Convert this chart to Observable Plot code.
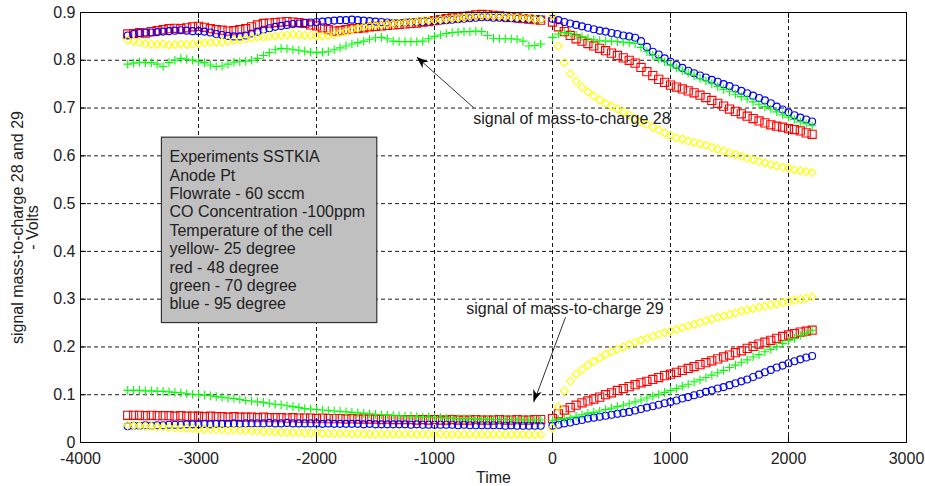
<!DOCTYPE html>
<html>
<head>
<meta charset="utf-8">
<script src="https://cdn.jsdelivr.net/npm/d3@7"></script>
<script src="https://cdn.jsdelivr.net/npm/@observablehq/plot@0.6"></script>
<style>
  html, body { margin: 0; padding: 0; background: #fff; }
</style>
</head>
<body>
<div id="chart"></div>
<script>
// Sampling times (s): 71 samples before the switch at t = 0, then 45 after it.
const TIME = [
  -3600,-3550,-3500,-3450,-3400,-3350,-3300,-3250,-3200,-3150,
  -3100,-3050,-3000,-2950,-2900,-2850,-2800,-2750,-2700,-2650,
  -2600,-2550,-2500,-2450,-2400,-2350,-2300,-2250,-2200,-2150,
  -2100,-2050,-2000,-1950,-1900,-1850,-1800,-1750,-1700,-1650,
  -1600,-1550,-1500,-1450,-1400,-1350,-1300,-1250,-1200,-1150,
  -1100,-1050,-1000,-950,-900,-850,-800,-750,-700,-650,
  -600,-550,-500,-450,-400,-350,-300,-250,-200,-150,
  -100,
  0,50,100,150,200,250,300,350,400,450,
  500,550,600,650,700,750,800,850,900,950,
  1000,1050,1100,1150,1200,1250,1300,1350,1400,1450,
  1500,1550,1600,1650,1700,1750,1800,1850,1900,1950,
  2000,2050,2100,2150,2200
];

// Signal of mass-to-charge 28 (V)
const red28 = [
  0.855,0.856,0.858,0.857,0.860,0.862,0.864,0.866,0.867,0.866,
  0.868,0.870,0.871,0.869,0.866,0.864,0.863,0.861,0.862,0.864,
  0.866,0.870,0.874,0.877,0.878,0.879,0.880,0.881,0.880,0.879,
  0.877,0.874,0.872,0.868,0.864,0.861,0.862,0.864,0.866,0.867,
  0.868,0.870,0.871,0.872,0.873,0.874,0.875,0.876,0.877,0.878,
  0.880,0.881,0.883,0.885,0.887,0.889,0.890,0.892,0.893,0.895,
  0.896,0.895,0.894,0.893,0.892,0.890,0.889,0.887,0.886,0.885,
  0.884,
  0.880,0.870,0.860,0.852,0.845,0.840,0.835,0.830,0.825,0.820,
  0.815,0.810,0.805,0.800,0.794,0.785,0.776,0.768,0.760,0.754,
  0.748,0.744,0.740,0.736,0.732,0.727,0.722,0.716,0.710,0.704,
  0.698,0.693,0.688,0.683,0.678,0.673,0.669,0.665,0.662,0.660,
  0.657,0.655,0.652,0.648,0.645
];
const blue28 = [
  0.852,0.855,0.857,0.858,0.858,0.859,0.860,0.861,0.862,0.863,
  0.862,0.861,0.861,0.860,0.858,0.855,0.853,0.851,0.850,0.850,
  0.852,0.856,0.860,0.864,0.867,0.870,0.872,0.874,0.876,0.877,
  0.878,0.879,0.880,0.881,0.882,0.883,0.884,0.884,0.885,0.884,
  0.883,0.882,0.881,0.880,0.879,0.878,0.878,0.879,0.880,0.880,
  0.880,0.881,0.882,0.883,0.884,0.885,0.886,0.887,0.888,0.889,
  0.890,0.890,0.889,0.889,0.888,0.888,0.887,0.887,0.886,0.886,
  0.886,
  0.887,0.884,0.880,0.877,0.874,0.871,0.868,0.865,0.862,0.860,
  0.857,0.855,0.852,0.850,0.847,0.840,0.828,0.818,0.812,0.804,
  0.797,0.790,0.784,0.778,0.773,0.768,0.764,0.759,0.755,0.750,
  0.746,0.741,0.736,0.731,0.726,0.721,0.716,0.710,0.703,0.697,
  0.691,0.685,0.680,0.676,0.672
];
const yellow28 = [
  0.842,0.840,0.837,0.835,0.834,0.833,0.834,0.832,0.833,0.834,
  0.833,0.834,0.835,0.836,0.837,0.838,0.838,0.840,0.842,0.843,
  0.845,0.846,0.848,0.849,0.850,0.851,0.852,0.853,0.854,0.853,
  0.852,0.852,0.851,0.851,0.852,0.854,0.857,0.860,0.864,0.867,
  0.870,0.873,0.874,0.875,0.876,0.877,0.878,0.879,0.880,0.881,
  0.882,0.883,0.884,0.885,0.886,0.887,0.888,0.889,0.891,0.892,
  0.893,0.893,0.892,0.892,0.891,0.890,0.890,0.889,0.888,0.886,
  0.885,
  0.894,0.830,0.795,0.772,0.756,0.744,0.734,0.725,0.717,0.710,
  0.704,0.698,0.692,0.685,0.678,0.672,0.666,0.660,0.654,0.648,
  0.642,0.638,0.635,0.631,0.628,0.625,0.622,0.618,0.614,0.610,
  0.606,0.603,0.599,0.595,0.592,0.588,0.585,0.582,0.579,0.576,
  0.574,0.571,0.569,0.567,0.565
];
const green28 = [
  0.792,0.794,0.796,0.795,0.795,0.792,0.787,0.795,0.800,0.804,
  0.802,0.800,0.797,0.795,0.790,0.787,0.788,0.792,0.796,0.797,
  0.798,0.800,0.804,0.810,0.816,0.822,0.825,0.824,0.822,0.821,
  0.819,0.817,0.816,0.817,0.818,0.822,0.826,0.830,0.834,0.837,
  0.840,0.844,0.847,0.848,0.845,0.840,0.839,0.839,0.839,0.839,
  0.840,0.845,0.850,0.853,0.856,0.858,0.859,0.860,0.860,0.861,
  0.860,0.852,0.846,0.845,0.845,0.845,0.844,0.840,0.830,0.831,
  0.834,
  0.848,0.855,0.858,0.856,0.852,0.849,0.846,0.843,0.841,0.840,
  0.840,0.839,0.838,0.837,0.835,0.827,0.818,0.810,0.803,0.797,
  0.790,0.784,0.778,0.773,0.768,0.762,0.757,0.751,0.745,0.739,
  0.734,0.729,0.724,0.719,0.713,0.708,0.703,0.698,0.692,0.686,
  0.681,0.676,0.671,0.667,0.663
];

// Signal of mass-to-charge 29 (V)
const red29 = [
  0.057,0.057,0.057,0.056,0.057,0.056,0.056,0.056,0.055,0.056,
  0.055,0.055,0.055,0.054,0.055,0.054,0.054,0.053,0.054,0.053,
  0.053,0.053,0.052,0.053,0.052,0.052,0.052,0.051,0.052,0.051,
  0.051,0.051,0.050,0.051,0.050,0.050,0.050,0.049,0.050,0.049,
  0.049,0.049,0.049,0.048,0.049,0.048,0.048,0.048,0.048,0.047,
  0.048,0.047,0.048,0.047,0.047,0.048,0.047,0.047,0.047,0.048,
  0.047,0.047,0.047,0.048,0.047,0.047,0.048,0.047,0.047,0.048,
  0.048,
  0.050,0.060,0.068,0.073,0.078,0.083,0.087,0.091,0.095,0.100,
  0.104,0.109,0.113,0.117,0.121,0.125,0.128,0.132,0.136,0.140,
  0.143,0.147,0.151,0.155,0.159,0.163,0.167,0.171,0.175,0.179,
  0.183,0.188,0.192,0.197,0.201,0.206,0.210,0.214,0.218,0.222,
  0.225,0.228,0.231,0.233,0.235
];
const blue29 = [
  0.034,0.035,0.035,0.036,0.035,0.036,0.036,0.037,0.037,0.037,
  0.038,0.038,0.038,0.039,0.038,0.039,0.039,0.039,0.040,0.039,
  0.040,0.040,0.040,0.040,0.041,0.040,0.040,0.041,0.040,0.040,
  0.040,0.040,0.040,0.039,0.040,0.039,0.039,0.039,0.039,0.039,
  0.038,0.039,0.038,0.038,0.038,0.038,0.038,0.038,0.037,0.038,
  0.037,0.037,0.037,0.037,0.037,0.037,0.036,0.037,0.036,0.036,
  0.036,0.036,0.036,0.036,0.035,0.036,0.035,0.035,0.035,0.035,
  0.035,
  0.035,0.037,0.040,0.042,0.045,0.047,0.050,0.052,0.054,0.056,
  0.058,0.060,0.062,0.064,0.067,0.070,0.073,0.076,0.079,0.082,
  0.085,0.088,0.092,0.095,0.099,0.102,0.106,0.109,0.113,0.116,
  0.120,0.124,0.128,0.132,0.137,0.142,0.147,0.152,0.157,0.161,
  0.166,0.170,0.174,0.178,0.181
];
const yellow29 = [
  0.036,0.035,0.035,0.034,0.034,0.033,0.033,0.032,0.031,0.031,
  0.030,0.030,0.029,0.028,0.028,0.027,0.027,0.026,0.026,0.025,
  0.025,0.024,0.024,0.023,0.023,0.022,0.022,0.021,0.021,0.021,
  0.020,0.020,0.020,0.019,0.019,0.019,0.019,0.019,0.018,0.019,
  0.018,0.018,0.018,0.018,0.018,0.018,0.018,0.018,0.018,0.017,
  0.018,0.017,0.017,0.018,0.017,0.017,0.017,0.017,0.017,0.017,
  0.017,0.017,0.017,0.017,0.017,0.017,0.017,0.017,0.017,0.017,
  0.017,
  0.030,0.075,0.108,0.128,0.143,0.153,0.162,0.170,0.177,0.184,
  0.190,0.195,0.200,0.205,0.210,0.214,0.218,0.222,0.226,0.230,
  0.233,0.237,0.240,0.244,0.247,0.251,0.255,0.258,0.262,0.265,
  0.268,0.271,0.275,0.278,0.280,0.283,0.285,0.288,0.290,0.293,
  0.295,0.298,0.300,0.302,0.305
];
const green29 = [
  0.109,0.109,0.109,0.108,0.108,0.107,0.107,0.106,0.105,0.104,
  0.102,0.101,0.100,0.099,0.098,0.096,0.095,0.093,0.092,0.090,
  0.088,0.087,0.085,0.084,0.082,0.080,0.079,0.077,0.075,0.073,
  0.071,0.070,0.069,0.068,0.067,0.066,0.065,0.064,0.063,0.062,
  0.061,0.060,0.059,0.058,0.057,0.057,0.056,0.055,0.055,0.054,
  0.053,0.053,0.052,0.052,0.051,0.051,0.050,0.050,0.050,0.049,
  0.049,0.049,0.048,0.048,0.048,0.048,0.048,0.047,0.047,0.047,
  0.047,
  0.046,0.048,0.050,0.052,0.055,0.058,0.061,0.063,0.066,0.069,
  0.072,0.075,0.078,0.081,0.085,0.089,0.093,0.097,0.101,0.105,
  0.109,0.113,0.118,0.122,0.127,0.131,0.136,0.141,0.146,0.151,
  0.157,0.162,0.168,0.173,0.179,0.184,0.190,0.195,0.201,0.207,
  0.213,0.218,0.224,0.229,0.235
];

// Axis ticks
const X_TICKS = [-4000, -3000, -2000, -1000, 0, 1000, 2000, 3000];
const Y_TICKS = [0, 0.1, 0.2, 0.3, 0.4, 0.5, 0.6, 0.7, 0.8, 0.9];

// Text
const X_LABEL = "Time";
const Y_LABEL = ["signal mass-to-charge 28 and 29", "- Volts"];
const INFO_LINES = [
  "Experiments SSTKIA",
  "Anode Pt",
  "Flowrate - 60 sccm",
  "CO Concentration -100ppm",
  "Temperature of the cell",
  "yellow- 25 degree",
  "red - 48 degree",
  "green - 70 degree",
  "blue - 95 degree"
];
const NOTE_TEXT = ["signal of mass-to-charge 28", "signal of mass-to-charge 29"];

// Annotation anchors in data units (label start, arrow tail -> arrow tip)
const NOTE_AT = [{x: -672, y: 0.678}, {x: -731, y: 0.280}];
const ARROW_AT = [
  {x1: -667, y1: 0.7005, x2: -1147, y2: 0.806},
  {x1: 110, y1: 0.262, x2: -158, y2: 0.0843}
];
const INFO_BOX = {x1: -3310, x2: -1485, y1: 0.250, y2: 0.638};
const INFO_TEXT_AT = {x: -3246, y: 0.614};

// Series styles: one marker per cell temperature
const SERIES = [
  {key: "red",    color: "#ff0000", symbol: "square",   r: 4.6, m28: red28,    m29: red29},
  {key: "blue",   color: "#0000ff", symbol: "circle",   r: 3.5, m28: blue28,   m29: blue29},
  {key: "green",  color: "#00ff00", symbol: "plus",     r: 2.9, m28: green28,  m29: green29},
  {key: "yellow", color: "#ffff00", symbol: "diamond2", r: 3.6, m28: yellow28, m29: yellow29}
];

const rowsFor = (values) => TIME.map((t, i) => ({t, v: values[i]}));

const seriesMarks = SERIES.flatMap(s => [s.m28, s.m29].map(vals =>
  Plot.dot(rowsFor(vals), {
    x: "t", y: "v",
    symbol: s.symbol, r: s.r,
    fill: "none", stroke: s.color, strokeWidth: 1.1
  })
));

// Filled, notched arrowheads at the tip of each annotation arrow
function arrowHeads(index, scales) {
  const g = d3.create("svg:g");
  const L = 12, W = 9;
  for (const a of ARROW_AT) {
    const xa = scales.x(a.x1), ya = scales.y(a.y1);
    const xb = scales.x(a.x2), yb = scales.y(a.y2);
    const ang = Math.atan2(yb - ya, xb - xa) * 180 / Math.PI;
    g.append("path")
      .attr("d", `M0,0L${-L},${-W / 2}L${-0.7 * L},0L${-L},${W / 2}Z`)
      .attr("transform", `translate(${xb},${yb}) rotate(${ang})`)
      .attr("fill", "#000");
  }
  return g.node();
}

const W = 925, H = 486;
const mL = 80, mR = 19, mT = 12, mB = 44;
const frameW = W - mL - mR, frameH = H - mT - mB;
const TICK = 6;
const fmt = d => String(d);

const chart = Plot.plot({
  width: W, height: H,
  marginLeft: mL, marginRight: mR, marginTop: mT, marginBottom: mB,
  style: {
    fontFamily: "'Liberation Sans', Arial, sans-serif",
    fontSize: "16px",
    color: "#222",
    background: "#fff",
    overflow: "visible"
  },
  x: {domain: [-4000, 3000], axis: null},
  y: {domain: [0, 0.9], axis: null},
  marks: [
    // dashed grid at the interior ticks
    Plot.ruleX(X_TICKS.slice(1, -1), {stroke: "#000", strokeWidth: 0.9, strokeDasharray: "4,3"}),
    Plot.ruleY(Y_TICKS.slice(1, -1), {stroke: "#000", strokeWidth: 0.9, strokeDasharray: "4,3"}),

    // information box
    Plot.rect([INFO_BOX], {x1: "x1", x2: "x2", y1: "y1", y2: "y2", fill: "#c0c0c0", stroke: "#333", strokeWidth: 1.2}),
    Plot.text([INFO_LINES.join("\n")], {
      x: () => INFO_TEXT_AT.x, y: () => INFO_TEXT_AT.y, text: d => d,
      textAnchor: "start", lineAnchor: "top", lineHeight: 1.15, fill: "#222", fontSize: 16
    }),

    // measured signals
    ...seriesMarks,

    // annotations
    Plot.link(ARROW_AT, {x1: "x1", y1: "y1", x2: "x2", y2: "y2", stroke: "#333", strokeWidth: 1}),
    arrowHeads,
    Plot.text(NOTE_AT, {
      x: "x", y: "y", text: (d, i) => NOTE_TEXT[i],
      textAnchor: "start", lineAnchor: "middle", fill: "#222", fontSize: 16
    }),

    // axes box with inward ticks on all four sides
    Plot.frame({stroke: "#000", strokeWidth: 1}),
    Plot.tickX(X_TICKS, {x: d => d, insetTop: frameH - TICK, stroke: "#000"}),
    Plot.tickX(X_TICKS, {x: d => d, insetBottom: frameH - TICK, stroke: "#000"}),
    Plot.tickY(Y_TICKS, {y: d => d, insetRight: frameW - TICK, stroke: "#000"}),
    Plot.tickY(Y_TICKS, {y: d => d, insetLeft: frameW - TICK, stroke: "#000"}),

    // tick labels
    Plot.text(X_TICKS, {
      x: d => d, text: fmt, frameAnchor: "bottom", lineAnchor: "middle",
      dy: 16, fill: "#222", fontSize: 16
    }),
    Plot.text(Y_TICKS, {
      y: d => d, text: fmt, frameAnchor: "left", textAnchor: "end", lineAnchor: "middle",
      dx: -5, fill: "#222", fontSize: 16
    }),

    // axis titles
    Plot.text([X_LABEL], {text: d => d, frameAnchor: "bottom", lineAnchor: "middle", dy: 35, fill: "#222", fontSize: 16}),
    Plot.text([Y_LABEL.join("\n")], {
      text: d => d, frameAnchor: "left", rotate: -90, dx: -55,
      textAnchor: "middle", lineAnchor: "middle", lineHeight: 0.95, fill: "#222", fontSize: 16
    })
  ]
});

document.getElementById("chart").appendChild(chart);
</script>
</body>
</html>
